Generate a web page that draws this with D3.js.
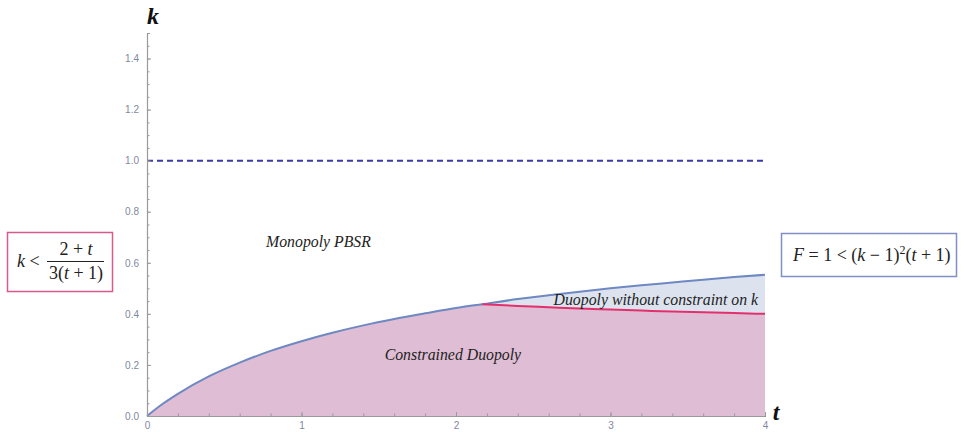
<!DOCTYPE html>
<html><head><meta charset="utf-8">
<script src="https://cdn.jsdelivr.net/npm/d3@7"></script>
<style>body{margin:0;background:#fff}svg{display:block}.ser{font-family:'Liberation Serif','DejaVu Serif','Times New Roman',serif}</style>
</head><body>
<svg id="c" width="964" height="432"></svg>
<script>
// boundary F = 1 < (k-1)^2 (t+1)  (blue curve)
const blueT = [0, 0.1, 0.2, 0.4, 0.6, 0.8, 1.0, 1.2, 1.4, 1.6, 1.8, 2.0, 2.17, 2.4, 2.6, 2.8, 3.0, 3.2, 3.4, 3.6, 3.8, 4.0];
const blueK = [0, 0.047, 0.087, 0.155, 0.209, 0.255, 0.293, 0.326, 0.355, 0.380, 0.402, 0.423, 0.438, 0.458, 0.473, 0.487, 0.500, 0.512, 0.523, 0.534, 0.544, 0.553];
// boundary k < (2+t)/(3(t+1))  (red curve)
const redT = [2.17, 2.4, 2.6, 2.8, 3.0, 3.2, 3.4, 3.6, 3.8, 4.0];
const redK = [0.438, 0.431, 0.426, 0.421, 0.417, 0.413, 0.409, 0.406, 0.403, 0.400];
const monopolyLine = 1.0;
const xTicks = [0, 1, 2, 3, 4];
const yTicks = [0.0, 0.2, 0.4, 0.6, 0.8, 1.0, 1.2, 1.4];
const regionLabels = ["Monopoly PBSR", "Duopoly without constraint on k", "Constrained Duopoly"];

const svg = d3.select("#c");
const x = d3.scaleLinear().domain([0, 4]).range([147, 765]);
const y = d3.scaleLinear().domain([0, 1.5]).range([416, 33]);

const blue = blueT.map((t, i) => ({t, k: blueK[i]}));
const red = redT.map((t, i) => ({t, k: redK[i]}));
const tSplit = redT[0];

const pinkTop = blue.filter(d => d.t < tSplit).concat(red);
const area = d3.area().x(d => x(d.t)).y0(y(0)).y1(d => y(d.k)).curve(d3.curveMonotoneX);
const blueAfter = blue.filter(d => d.t >= tSplit);
const redInterp = t => {
  for (let i = 0; i < red.length - 1; i++) {
    if (t >= red[i].t && t <= red[i+1].t) {
      const f = (t - red[i].t) / (red[i+1].t - red[i].t);
      return red[i].k + f * (red[i+1].k - red[i].k);
    }
  }
  return red[red.length-1].k;
};
svg.append("path")
  .attr("d", d3.area().x(d => x(d.t)).y0(d => y(redInterp(d.t))).y1(d => y(d.k)).curve(d3.curveMonotoneX)(blueAfter))
  .attr("fill", "#dce3ef");
svg.append("path").attr("d", area(pinkTop)).attr("fill", "#dfbdd4");

svg.append("path")
  .attr("d", d3.line().x(d => x(d.t)).y(d => y(d.k)).curve(d3.curveMonotoneX)(blue))
  .attr("fill", "none").attr("stroke", "#6e88c2").attr("stroke-width", 2);
svg.append("path")
  .attr("d", d3.line().x(d => x(d.t)).y(d => y(d.k)).curve(d3.curveMonotoneX)(red))
  .attr("fill", "none").attr("stroke", "#e3306c").attr("stroke-width", 2);

svg.append("line")
  .attr("x1", x(0)).attr("x2", x(4)).attr("y1", y(monopolyLine)).attr("y2", y(monopolyLine))
  .attr("stroke", "#3a3aa8").attr("stroke-width", 2).attr("stroke-dasharray", "6,4");

const axisColor = "#9a9a9a", labelColor = "#8088a0";
const gx = svg.append("g").attr("transform", `translate(0,${y(0)})`);
gx.call(d3.axisBottom(x).tickValues(d3.range(0, 4.001, 0.2)).tickSize(-2.5).tickSizeOuter(0).tickFormat(""));
gx.selectAll(".tick line").attr("stroke", axisColor);
const gx2 = svg.append("g").attr("transform", `translate(0,${y(0)})`);
gx2.call(d3.axisBottom(x).tickValues(xTicks).tickSize(-4).tickSizeOuter(0).tickPadding(4).tickFormat(d3.format("d")));
gx2.select(".domain").attr("stroke", axisColor).attr("stroke-width", 1.2);
gx2.selectAll(".tick line").attr("stroke", axisColor);
gx2.selectAll(".tick text").attr("fill", labelColor).attr("font-family", "Liberation Sans, Arial, sans-serif").attr("font-size", 10).attr("dy", "0.9em");

const gy = svg.append("g").attr("transform", `translate(${x(0)},0)`);
gy.call(d3.axisLeft(y).tickValues(d3.range(0, 1.5001, 0.05)).tickSize(-2.5).tickSizeOuter(-3).tickFormat(""));
gy.selectAll(".tick line").attr("stroke", axisColor);
gy.select(".domain").attr("stroke", axisColor).attr("stroke-width", 1.2);
const gy2 = svg.append("g").attr("transform", `translate(${x(0)},0)`);
gy2.call(d3.axisLeft(y).tickValues(yTicks).tickSize(-4).tickSizeOuter(0).tickPadding(8).tickFormat(d3.format(".1f")));
gy2.select(".domain").remove();
gy2.selectAll(".tick line").attr("stroke", axisColor);
gy2.selectAll(".tick text").attr("fill", labelColor).attr("font-family", "Liberation Sans, Arial, sans-serif").attr("font-size", 10);

svg.append("text").attr("class", "ser").attr("x", 153).attr("y", 24).attr("text-anchor", "middle")
  .attr("font-style", "italic").attr("font-weight", "bold")
  .attr("font-size", 24).attr("fill", "#111").text("k");
svg.append("text").attr("class", "ser").attr("x", 776).attr("y", 420).attr("text-anchor", "middle")
  .attr("font-style", "italic").attr("font-weight", "bold")
  .attr("font-size", 24).attr("fill", "#111").text("t");

const lab = (tx, tt, kk, anchor) => svg.append("text").attr("class", "ser").attr("x", x(tt)).attr("y", y(kk)).attr("text-anchor", anchor)
  .attr("font-style", "italic").attr("font-size", 15.8).attr("fill", "#222").text(tx);
lab(regionLabels[0], 1.11, 0.66, "middle");
lab(regionLabels[1], 3.955, 0.435, "end");
lab(regionLabels[2], 1.98, 0.218, "middle");

svg.append("rect").attr("x", 7.5).attr("y", 232.5).attr("width", 105).attr("height", 59)
  .attr("fill", "#fff").attr("stroke", "#d85a8c").attr("stroke-width", 1.5);
const lt = svg.append("text").attr("class", "ser").attr("x", 17).attr("y", 267).attr("font-size", 18).attr("fill", "#222");
lt.append("tspan").attr("font-style", "italic").text("k");
lt.append("tspan").text(" <");
const num = svg.append("text").attr("class", "ser").attr("x", 76).attr("y", 255).attr("text-anchor", "middle").attr("font-size", 18).attr("fill", "#222");
num.append("tspan").text("2 + ");
num.append("tspan").attr("font-style", "italic").text("t");
svg.append("line").attr("x1", 47).attr("x2", 104).attr("y1", 261.5).attr("y2", 261.5).attr("stroke", "#222").attr("stroke-width", 1);
const den = svg.append("text").attr("class", "ser").attr("x", 76).attr("y", 279).attr("text-anchor", "middle").attr("font-size", 18).attr("fill", "#222");
den.append("tspan").text("3(");
den.append("tspan").attr("font-style", "italic").text("t");
den.append("tspan").text(" + 1)");

svg.append("rect").attr("x", 781.5).attr("y", 233.5).attr("width", 175).attr("height", 43)
  .attr("fill", "#fff").attr("stroke", "#8090c4").attr("stroke-width", 1.5);
const rt = svg.append("text").attr("class", "ser").attr("x", 793).attr("y", 261).attr("font-size", 18).attr("fill", "#222");
rt.append("tspan").attr("font-style", "italic").text("F");
rt.append("tspan").text(" = 1 < (");
rt.append("tspan").attr("font-style", "italic").text("k");
rt.append("tspan").text(" − 1)");
rt.append("tspan").attr("font-size", 12).attr("dy", -7).text("2");
rt.append("tspan").attr("dy", 7).text("(");
rt.append("tspan").attr("font-style", "italic").text("t");
rt.append("tspan").text(" + 1)");
</script>
</body></html>
